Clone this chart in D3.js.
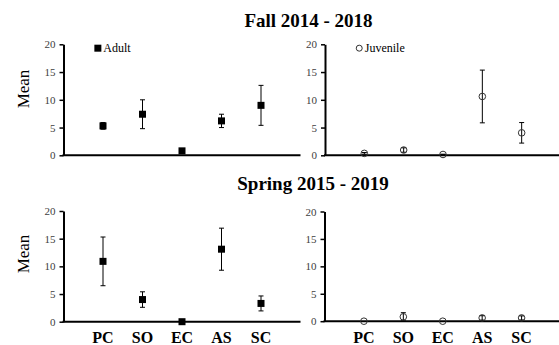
<!DOCTYPE html>
<html>
<head>
<meta charset="utf-8">
<script src="https://cdn.jsdelivr.net/npm/d3@7"></script>
<style>
  html, body { margin: 0; padding: 0; background: #fff; }
  svg { display: block; }
  text { font-family: "Liberation Serif", "Times New Roman", serif; }
</style>
</head>
<body>
<svg id="chart" width="559" height="345"></svg>
<script>
// Sites along the x axis
const categories = ["PC", "SO", "EC", "AS", "SC"];
const yTicks = [0, 5, 10, 15, 20];

// Fall 2014 - 2018 means and error bar half-widths
const fallAdultMean = [5.3, 7.4, 0.8, 6.2, 9.0];
const fallAdultErr  = [0.6, 2.6, 0.3, 1.2, 3.6];
const fallJuvMean   = [0.35, 0.95, 0.15, 10.6, 4.05];
const fallJuvErr    = [0.15, 0.4, 0.05, 4.75, 1.85];

// Spring 2015 - 2019 means and error bar half-widths
const springAdultMean = [10.9, 4.0, 0.0, 13.1, 3.3];
const springAdultErr  = [4.4, 1.4, 0.0, 3.8, 1.35];
const springJuvMean   = [0.0, 0.8, 0.0, 0.6, 0.6];
const springJuvErr    = [0.0, 0.75, 0.0, 0.4, 0.37];

const svg = d3.select("#chart");

const panels = [
  { x0: 63.5, x1: 300.5, yTop: 44.3, yBot: 155.3, mean: fallAdultMean, err: fallAdultErr, marker: "square", legend: "Adult" },
  { x0: 325, x1: 561, yTop: 44.3, yBot: 155.3, mean: fallJuvMean, err: fallJuvErr, marker: "circle", legend: "Juvenile" },
  { x0: 63.5, x1: 300.5, yTop: 211, yBot: 321.7, mean: springAdultMean, err: springAdultErr, marker: "square", labels: true },
  { x0: 324.5, x1: 561, yTop: 211.5, yBot: 321.2, mean: springJuvMean, err: springJuvErr, marker: "circle", labels: true }
];

panels.forEach(p => {
  const x = d3.scaleLinear().domain([0, categories.length + 1]).range([p.x0, p.x1]);
  const y = d3.scaleLinear().domain([0, 20]).range([p.yBot, p.yTop]);
  const g = svg.append("g");

  // y axis with outward ticks
  const ay = g.append("g")
    .attr("transform", `translate(${p.x0},0)`)
    .call(d3.axisLeft(y).tickValues(yTicks).tickSize(4).tickPadding(4).tickSizeOuter(0));
  ay.select(".domain").attr("stroke", "#000").attr("stroke-width", 2);
  ay.selectAll(".tick line").attr("stroke", "#000").attr("stroke-width", 1.5);
  ay.selectAll(".tick text")
    .attr("font-family", "Liberation Serif, Times New Roman, serif")
    .attr("font-size", 11).attr("fill", "#404040");

  // horizontal base line
  g.append("line")
    .attr("x1", p.x0 - 1).attr("x2", p.x1)
    .attr("y1", y(0)).attr("y2", y(0))
    .attr("stroke", "#000").attr("stroke-width", 2);

  const data = categories.map((c, i) => ({ c, i, m: p.mean[i], e: p.err[i] }));

  // error bars
  const eb = g.selectAll(".eb").data(data.filter(d => d.e > 0)).enter().append("g")
    .attr("stroke", "#000").attr("stroke-width", 1);
  eb.append("line")
    .attr("x1", d => x(d.i + 1)).attr("x2", d => x(d.i + 1))
    .attr("y1", d => y(d.m + d.e)).attr("y2", d => y(Math.max(0, d.m - d.e)));
  eb.append("line")
    .attr("x1", d => x(d.i + 1) - 2.5).attr("x2", d => x(d.i + 1) + 2.5)
    .attr("y1", d => y(d.m + d.e)).attr("y2", d => y(d.m + d.e));
  eb.append("line")
    .attr("x1", d => x(d.i + 1) - 2.5).attr("x2", d => x(d.i + 1) + 2.5)
    .attr("y1", d => y(Math.max(0, d.m - d.e))).attr("y2", d => y(Math.max(0, d.m - d.e)));

  // markers
  if (p.marker === "square") {
    g.selectAll(".pt").data(data).enter().append("rect")
      .attr("x", d => x(d.i + 1) - 3.5).attr("y", d => y(d.m) - 3.5)
      .attr("width", 7).attr("height", 7).attr("fill", "#000");
  } else {
    g.selectAll(".pt").data(data).enter().append("circle")
      .attr("cx", d => x(d.i + 1)).attr("cy", d => y(d.m)).attr("r", 3.3)
      .attr("fill", "none").attr("stroke", "#333").attr("stroke-width", 1);
  }

  // legend
  if (p.legend) {
    const lx = x(0.87), ly = y(19.3);
    if (p.marker === "square") {
      g.append("rect").attr("x", lx - 3.5).attr("y", ly - 3.5).attr("width", 7).attr("height", 7).attr("fill", "#000");
    } else {
      g.append("circle").attr("cx", lx).attr("cy", ly).attr("r", 3)
        .attr("fill", "none").attr("stroke", "#333").attr("stroke-width", 1);
    }
    g.append("text").attr("x", lx + 5.5).attr("y", ly + 4)
      .attr("font-size", 12).attr("fill", "#000").text(p.legend);
  }

  // category labels
  if (p.labels) {
    g.selectAll(".cat").data(data).enter().append("text")
      .attr("x", d => x(d.i + 1)).attr("y", 343)
      .attr("text-anchor", "middle").attr("font-size", 16).attr("font-weight", "bold")
      .attr("fill", "#000").text(d => d.c);
  }
});

// titles
svg.append("text").attr("x", 308.5).attr("y", 27).attr("text-anchor", "middle")
  .attr("font-size", 19).attr("font-weight", "bold").text("Fall 2014 - 2018");
svg.append("text").attr("x", 313).attr("y", 190).attr("text-anchor", "middle")
  .attr("font-size", 19).attr("font-weight", "bold").text("Spring 2015 - 2019");

// y axis titles
[89, 254].forEach(cy => {
  svg.append("text")
    .attr("transform", `translate(29,${cy}) rotate(-90)`)
    .attr("text-anchor", "middle").attr("font-size", 17).text("Mean");
});
</script>
</body>
</html>
